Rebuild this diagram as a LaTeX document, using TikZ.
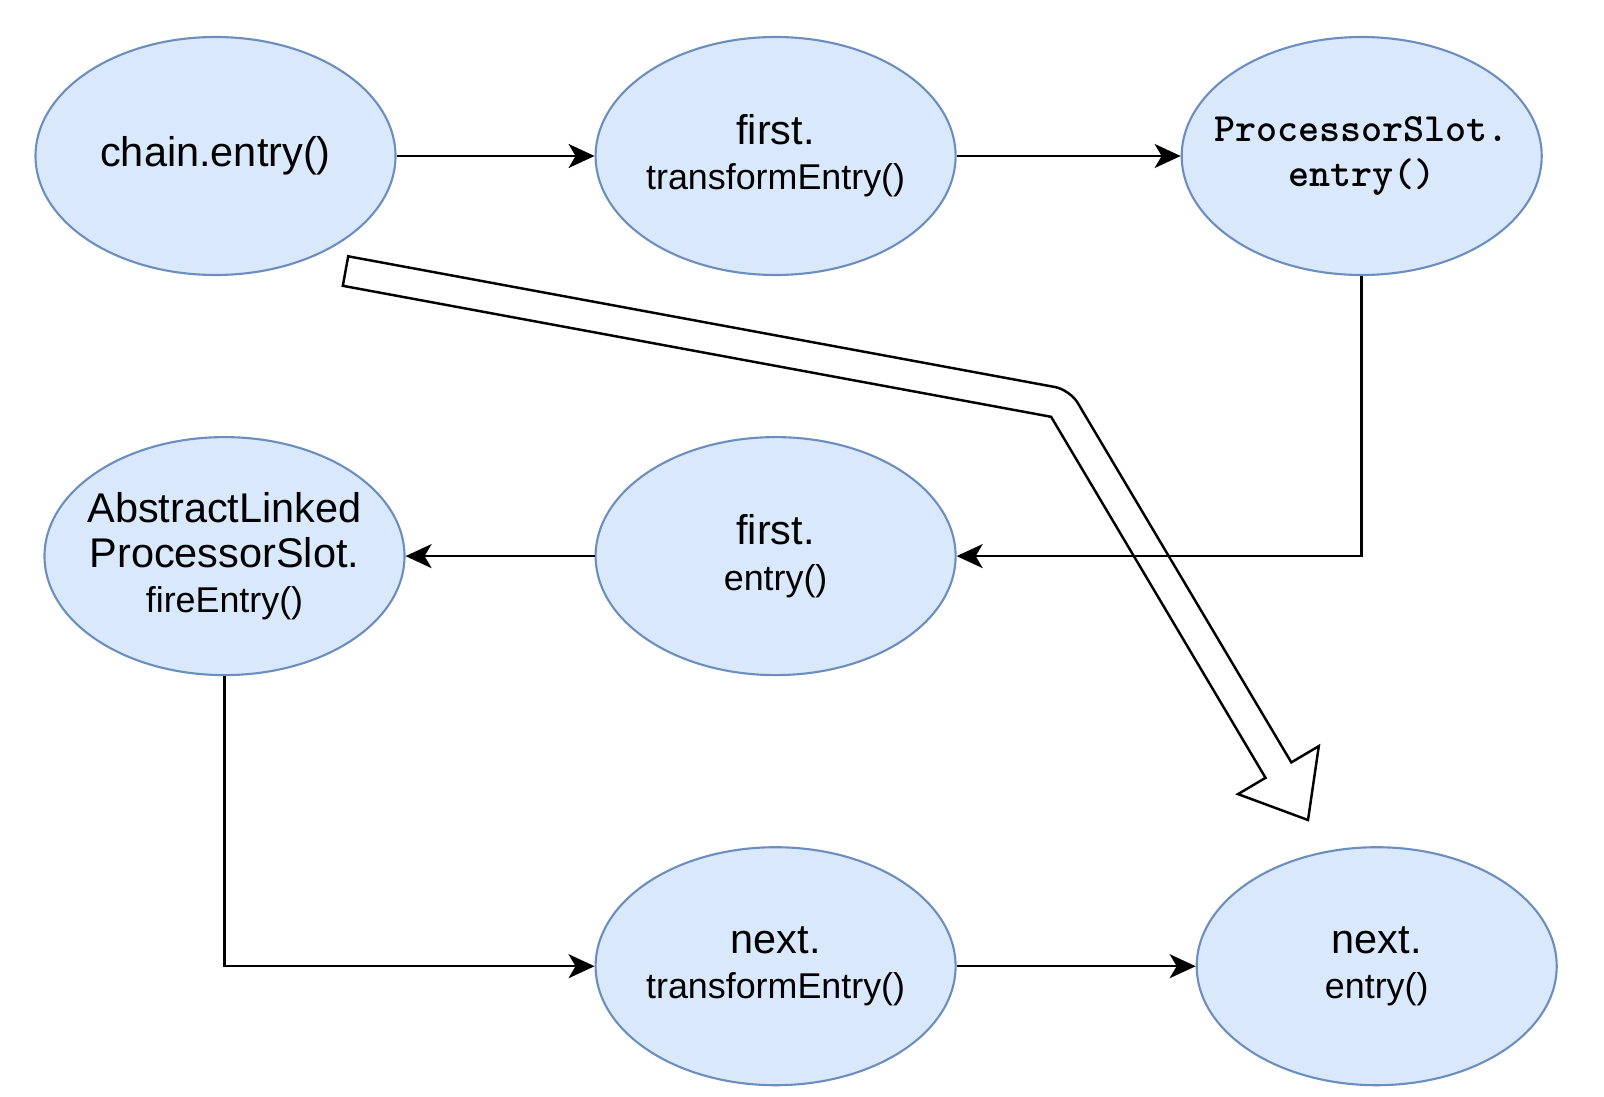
\documentclass[tikz,border=0pt]{standalone}
\usepackage{fontspec}
\setmainfont{Liberation Sans}
\usetikzlibrary{positioning, arrows.meta, shapes.geometric}
\definecolor{slotfill}{HTML}{DAE8FC}
\definecolor{slotline}{HTML}{6C8EBF}
\newcommand{\lbig}{\fontsize{11.8pt}{12.9pt}\selectfont}
\newcommand{\lsmall}{\fontsize{10.2pt}{12.9pt}\selectfont}
\newcommand{\lcode}{\ttfamily\bfseries\fontsize{11.4pt}{12.9pt}\selectfont}

\begin{document}
\begin{tikzpicture}[
  x=0.1mm, y=-0.1mm,
  node distance=16mm and 20mm,
  slot/.style={ellipse, draw=slotline, line width=0.6pt, fill=slotfill, minimum width=36mm,
    minimum height=23.8mm, inner xsep=-3mm, inner ysep=0pt, align=center, font=\lbig},
  arr/.style={-{Stealth[length=2.6mm, width=2.4mm, inset=0.7mm]}, line width=0.7pt},
  flow/.style={line width=0.7pt, line join=miter}
]
  \useasboundingbox (0,0) rectangle (1604,1096);

  \node[slot] (chain) at (215.5,156) {chain.entry()};
  \node[slot, right=19.8mm of chain] (ftrans) {first.\\\lsmall transformEntry()};
  \node[slot, right=22.4mm of ftrans] (pslot) {\lcode ProcessorSlot.\\\lcode entry()};

  \node[slot, below=of ftrans] (fentry) {first.\\\lsmall entry()};
  \node[slot, left=18.9mm of fentry] (fire) {AbstractLinked\\ProcessorSlot.\\\lsmall fireEntry()};

  \node[slot, below=17mm of fentry] (ntrans) {next.\\\lsmall transformEntry()};
  \node[slot, right=23.9mm of ntrans] (nentry) {next.\\\lsmall entry()};

  \draw[flow] (348.2,256.3) [rounded corners=1.5mm] -- (1069.9,389.8) [sharp corners]
    -- (1291.3,762.4) -- (1318.8,746.1) -- (1308,820) -- (1238.0,794.1) -- (1265.5,777.8)
    -- (1051.1,416.8) -- (342.8,285.8) -- cycle;

  \draw[arr] (chain) -- (ftrans);
  \draw[arr] (ftrans) -- (pslot);
  \draw[arr] (pslot.south) |- (fentry.east);
  \draw[arr] (fentry) -- (fire);
  \draw[arr] (fire.south) |- (ntrans.west);
  \draw[arr] (ntrans) -- (nentry);
\end{tikzpicture}
\end{document}
